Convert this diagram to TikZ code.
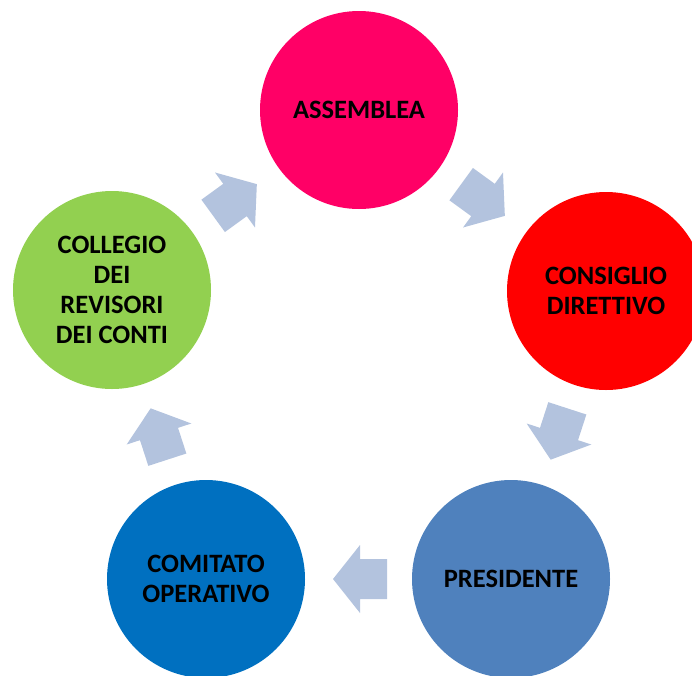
\documentclass[tikz,border=0pt]{standalone}
\usepackage{fontspec}
\setmainfont{Carlito}
\definecolor{cAss}{HTML}{FF0066}
\definecolor{cCons}{HTML}{FF0000}
\definecolor{cPres}{HTML}{4F81BD}
\definecolor{cCom}{HTML}{0070C0}
\definecolor{cColl}{HTML}{92D050}
\definecolor{cArrow}{HTML}{B3C3DE}
\tikzset{
  circ/.style={circle, minimum size=198pt, inner sep=0pt, align=center,
    font=\fontsize{26.5}{30}\selectfont\bfseries, text=black},
  cyclearrow/.pic={
    \fill[cArrow] (-27,-20) -- (0,-20) -- (0,-34) -- (27,0) -- (0,34) -- (0,20) -- (-27,20) -- cycle;
  }
}
\begin{document}
\begin{tikzpicture}[x=1pt,y=-1pt]
\useasboundingbox (0,0) rectangle (692,675);
\clip (0,0) rectangle (692,675);
\node[circ, fill=cAss]  (ass)  at (359,110) {ASSEMBLEA};
\node[circ, fill=cCons] (cons) at (606,291) {CONSIGLIO\\DIRETTIVO};
\node[circ, fill=cPres] (pres) at (511,579) {PRESIDENTE};
\node[circ, fill=cCom]  (com)  at (206,579) {COMITATO\\OPERATIVO};
\node[circ, fill=cColl] (coll) at (112,290) {COLLEGIO\\DEI\\REVISORI\\DEI CONTI};
\pic[rotate=36]   at (235,200) {cyclearrow};
\pic[rotate=-36]  at (483,200) {cyclearrow};
\pic[rotate=-108] at (559,434) {cyclearrow};
\pic[rotate=180]  at (360,579) {cyclearrow};
\pic[rotate=108]  at (159,434) {cyclearrow};
\end{tikzpicture}
\end{document}
